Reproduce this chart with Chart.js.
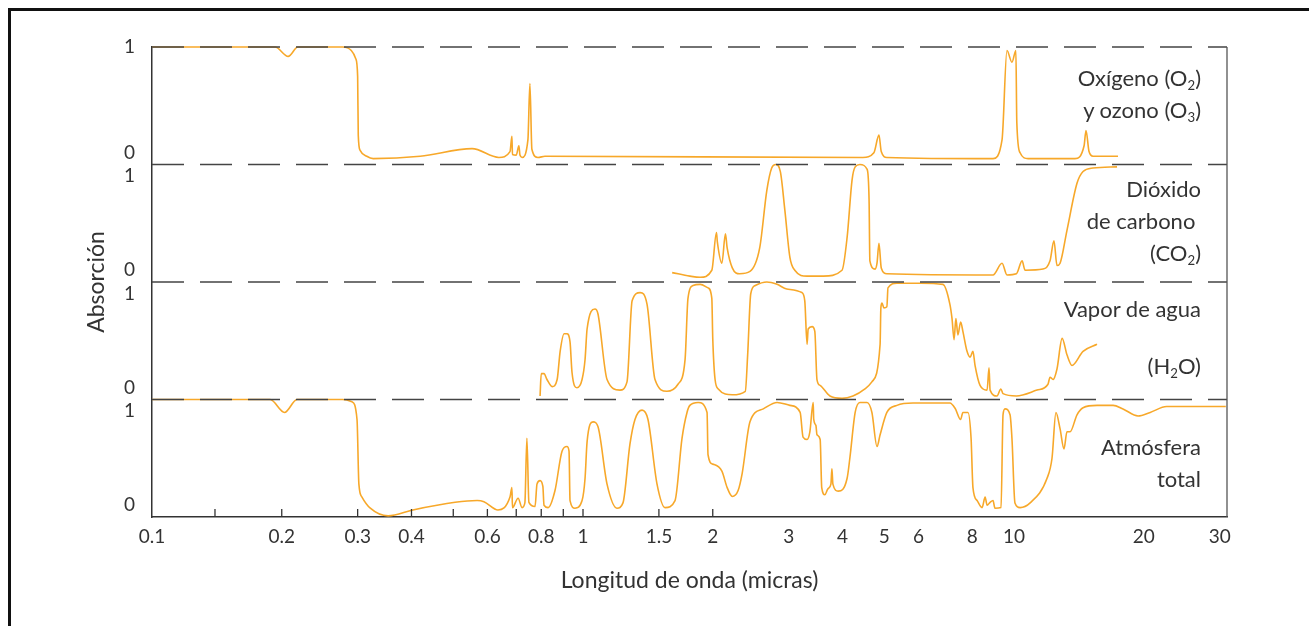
<!DOCTYPE html>
<html lang="es">
<head>
  <meta charset="UTF-8" />
  <title>Absorción atmosférica</title>
  <style>
    body { margin: 0; background: #fff; font-family: Lato, sans-serif; }
    #wrap { position: relative; width: 1309px; height: 626px; overflow: hidden; }
    #frame { position: absolute; left: 8px; top: 8px; width: 1310px; height: 630px; border-top: 3px solid #111; border-left: 3px solid #111; }
    .lbl { position: absolute; right: 108px; text-align: right; font-size: 22px; line-height: 32px; color: #333; }
    .lbl sub { font-size: 0.6em; line-height: 0; vertical-align: -0.3em; }
  </style>
  <script src="https://cdn.jsdelivr.net/npm/chart.js"></script>
</head>
<body>
  <div id="wrap">
    <canvas id="chart" width="1309" height="626"></canvas>
    <div id="frame"></div>
    <div class="lbl" style="top:62px">Oxígeno (O<sub>2</sub>)<br>y ozono (O<sub>3</sub>)</div>
    <div class="lbl" style="top:173px">Dióxido<br>de carbono&nbsp;<br>(CO<sub>2</sub>)</div>
    <div class="lbl" style="top:293px">Vapor de agua<br><span style="display:block;margin-top:25px">(H<sub>2</sub>O)</span></div>
    <div class="lbl" style="top:431px">Atmósfera<br>total</div>
  </div>

  <script>
    // eje x: longitud de onda (micras), eje y: absorción 0..1 en cada franja
    const xTickLabels = [0.1, 0.2, 0.3, 0.4, 0.6, 0.8, 1, 1.5, 2, 3, 4, 5, 6, 8, 10, 20, 30];
    const xTickMarks = [0.14, 0.2, 0.3, 0.4, 0.5, 0.6, 0.7, 0.8, 0.9, 1, 1.5, 2];
    const yTickLabels = ['0', '1', '0', '1', '0', '1', '0', '1'];

    // franja superior: oxígeno y ozono
    const o2Wave = [0.1, 0.193, 0.207, 0.218, 0.277, 0.290, 0.297, 0.300, 0.301, 0.304, 0.315, 0.326, 0.419, 0.553, 0.638, 0.677, 0.684, 0.686, 0.70, 0.71, 0.714, 0.722, 0.745, 0.753, 0.761, 0.786, 0.816, 4.46, 4.73, 4.86, 4.92, 5.07, 8.94, 9.38, 9.63, 9.89, 10.1, 10.15, 10.33, 10.78, 13.85, 14.54, 14.69, 14.93, 15.25, 17.43];
    const o2Abs = [1.0, 1.0, 0.92, 1.0, 1.0, 0.97, 0.90, 0.75, 0.25, 0.12, 0.07, 0.05, 0.07, 0.135, 0.06, 0.11, 0.24, 0.085, 0.08, 0.16, 0.08, 0.06, 0.21, 0.69, 0.13, 0.06, 0.07, 0.06, 0.10, 0.25, 0.11, 0.06, 0.05, 0.21, 0.97, 0.87, 0.97, 0.36, 0.10, 0.05, 0.05, 0.16, 0.29, 0.11, 0.07, 0.07];

    // dióxido de carbono
    const co2Wave = [1.61, 1.77, 1.87, 1.99, 2.04, 2.05, 2.10, 2.14, 2.16, 2.22, 2.31, 2.44, 2.57, 2.67, 2.74, 2.80, 2.87, 2.94, 3.02, 3.10, 3.31, 3.61, 3.99, 4.10, 4.21, 4.28, 4.39, 4.56, 4.61, 4.63, 4.76, 4.81, 4.86, 4.92, 5.07, 8.94, 9.38, 9.63, 10.13, 10.44, 10.61, 11.68, 12.12, 12.38, 12.58, 12.79, 13.27, 14.0, 14.46, 15.25, 17.34];
    const co2Abs = [0.08, 0.05, 0.04, 0.10, 0.42, 0.34, 0.16, 0.41, 0.29, 0.12, 0.07, 0.09, 0.29, 0.78, 0.97, 1.0, 0.94, 0.61, 0.21, 0.10, 0.05, 0.05, 0.10, 0.38, 0.87, 0.98, 1.0, 0.96, 0.70, 0.18, 0.11, 0.16, 0.33, 0.12, 0.07, 0.06, 0.16, 0.06, 0.07, 0.18, 0.10, 0.11, 0.18, 0.35, 0.14, 0.16, 0.44, 0.84, 0.94, 0.97, 0.98];

    // vapor de agua
    const h2oWave = [0.795, 0.80, 0.812, 0.825, 0.848, 0.871, 0.885, 0.904, 0.918, 0.933, 0.943, 0.968, 0.995, 1.011, 1.022, 1.066, 1.083, 1.137, 1.218, 1.265, 1.30, 1.357, 1.408, 1.469, 1.566, 1.661, 1.725, 1.752, 1.80, 1.87, 1.95, 1.99, 2.00, 2.025, 2.06, 2.22, 2.38, 2.41, 2.45, 2.51, 2.67, 2.82, 2.97, 3.22, 3.27, 3.31, 3.33, 3.40, 3.45, 3.49, 3.55, 3.74, 3.99, 4.23, 4.51, 4.68, 4.89, 4.91, 4.94, 4.99, 5.07, 5.10, 5.35, 6.07, 6.84, 7.10, 7.18, 7.26, 7.33, 7.41, 7.52, 7.61, 7.78, 7.91, 8.03, 8.12, 8.34, 8.66, 8.75, 8.80, 9.13, 9.32, 9.43, 10.13, 11.31, 11.99, 12.12, 12.32, 12.58, 12.93, 13.27, 13.63, 14.46, 15.58];
    const h2oAbs = [0.03, 0.22, 0.22, 0.17, 0.11, 0.17, 0.41, 0.56, 0.56, 0.49, 0.23, 0.10, 0.17, 0.34, 0.60, 0.77, 0.73, 0.17, 0.08, 0.15, 0.84, 0.91, 0.81, 0.17, 0.07, 0.13, 0.34, 0.86, 0.97, 0.98, 0.95, 0.86, 0.52, 0.17, 0.09, 0.04, 0.07, 0.38, 0.90, 0.97, 1.0, 0.98, 0.94, 0.91, 0.84, 0.47, 0.60, 0.62, 0.58, 0.17, 0.12, 0.03, 0.01, 0.03, 0.09, 0.15, 0.47, 0.78, 0.82, 0.78, 0.79, 0.95, 0.99, 0.99, 0.98, 0.81, 0.69, 0.51, 0.69, 0.55, 0.66, 0.58, 0.41, 0.36, 0.41, 0.29, 0.12, 0.08, 0.27, 0.08, 0.03, 0.09, 0.05, 0.03, 0.08, 0.13, 0.19, 0.17, 0.26, 0.52, 0.38, 0.29, 0.41, 0.47];

    // atmósfera total
    const totalWave = [0.1, 0.188, 0.203, 0.217, 0.277, 0.291, 0.299, 0.302, 0.307, 0.321, 0.353, 0.403, 0.505, 0.568, 0.589, 0.635, 0.677, 0.684, 0.686, 0.707, 0.722, 0.733, 0.741, 0.749, 0.774, 0.782, 0.795, 0.807, 0.812, 0.830, 0.861, 0.894, 0.918, 0.928, 0.933, 0.958, 0.995, 1.011, 1.022, 1.055, 1.083, 1.137, 1.199, 1.238, 1.285, 1.32, 1.371, 1.415, 1.485, 1.55, 1.635, 1.697, 1.743, 1.77, 1.85, 1.94, 1.95, 2.00, 2.10, 2.16, 2.22, 2.29, 2.34, 2.44, 2.62, 2.82, 3.02, 3.19, 3.24, 3.31, 3.36, 3.42, 3.43, 3.47, 3.49, 3.55, 3.58, 3.64, 3.70, 3.76, 3.78, 3.80, 3.91, 4.10, 4.16, 4.28, 4.39, 4.56, 4.68, 4.81, 4.89, 5.07, 5.35, 5.83, 7.10, 7.30, 7.52, 7.61, 7.82, 7.95, 8.03, 8.21, 8.43, 8.57, 8.66, 8.80, 8.94, 9.03, 9.33, 9.43, 9.53, 9.79, 9.89, 10.05, 10.33, 10.9, 11.93, 12.25, 12.51, 12.79, 13.06, 13.27, 13.49, 14.0, 14.46, 15.58, 16.97, 17.9, 19.4, 20.7, 22.6, 25.6, 31.0];
    const totalAbs = [1.0, 1.0, 0.89, 1.0, 1.0, 0.98, 0.83, 0.28, 0.17, 0.075, 0.01, 0.06, 0.125, 0.14, 0.13, 0.06, 0.17, 0.25, 0.08, 0.16, 0.08, 0.12, 0.67, 0.125, 0.09, 0.28, 0.31, 0.26, 0.10, 0.08, 0.225, 0.56, 0.60, 0.56, 0.14, 0.075, 0.14, 0.33, 0.64, 0.81, 0.77, 0.28, 0.075, 0.12, 0.62, 0.83, 0.91, 0.83, 0.28, 0.08, 0.14, 0.67, 0.89, 0.95, 0.975, 0.89, 0.53, 0.45, 0.39, 0.25, 0.175, 0.225, 0.37, 0.81, 0.92, 0.975, 0.95, 0.89, 0.68, 0.66, 0.725, 0.975, 0.83, 0.78, 0.70, 0.66, 0.25, 0.19, 0.24, 0.28, 0.41, 0.28, 0.22, 0.33, 0.50, 0.89, 0.975, 0.975, 0.89, 0.60, 0.70, 0.89, 0.95, 0.97, 0.97, 0.925, 0.83, 0.89, 0.89, 0.67, 0.25, 0.14, 0.08, 0.17, 0.10, 0.125, 0.14, 0.075, 0.08, 0.87, 0.92, 0.87, 0.67, 0.12, 0.08, 0.12, 0.33, 0.50, 0.89, 0.75, 0.58, 0.725, 0.725, 0.87, 0.93, 0.95, 0.95, 0.92, 0.86, 0.89, 0.94, 0.94, 0.94];

    // cada franja se apila una unidad por encima de la anterior
    const panels = [
      { wave: totalWave, abs: totalAbs, offset: 0 },
      { wave: h2oWave, abs: h2oAbs, offset: 1 },
      { wave: co2Wave, abs: co2Abs, offset: 2 },
      { wave: o2Wave, abs: o2Abs, offset: 3 }
    ];
    const ORANGE = '#f7a82a';
    const INK = '#333';

    Chart.defaults.font.family = 'Lato, sans-serif';
    Chart.defaults.color = INK;

    const panelLines = {
      id: 'panelLines',
      afterDatasetsDraw(chart) {
        const { ctx, chartArea: a, scales: { x, y } } = chart;
        ctx.save();
        ctx.strokeStyle = '#444';
        ctx.lineWidth = 1.6;
        ctx.setLineDash([32, 16]);
        panels.forEach(p => {
          const py = y.getPixelForValue(p.offset + 1);
          ctx.beginPath(); ctx.moveTo(a.left, py); ctx.lineTo(a.right, py); ctx.stroke();
        });
        ctx.setLineDash([]);
        ctx.strokeStyle = '#555';
        ctx.lineWidth = 1.3;
        ctx.beginPath(); ctx.moveTo(a.right, a.top); ctx.lineTo(a.right, a.bottom); ctx.stroke();
        ctx.strokeStyle = INK;
        xTickMarks.forEach(v => {
          const px = x.getPixelForValue(v);
          ctx.beginPath(); ctx.moveTo(px, a.bottom); ctx.lineTo(px, a.bottom - 8); ctx.stroke();
        });
        ctx.restore();
      }
    };

    new Chart(document.getElementById('chart'), {
      type: 'line',
      data: {
        datasets: panels.map(p => ({
          data: p.wave.map((w, i) => ({ x: w, y: p.abs[i] + p.offset })),
          borderColor: ORANGE,
          borderWidth: 1.6,
          pointRadius: 0,
          cubicInterpolationMode: 'monotone',
          clip: 4
        }))
      },
      options: {
        responsive: false,
        animation: false,
        layout: { padding: { left: 0, right: 82, top: 47, bottom: 0 } },
        plugins: { legend: { display: false }, tooltip: { enabled: false } },
        scales: {
          x: {
            type: 'logarithmic',
            min: 0.1,
            max: 31.2,
            afterFit: s => { s.height = 109; },
            afterBuildTicks: s => { s.ticks = xTickLabels.map(v => ({ value: v })); },
            ticks: { autoSkip: false, maxRotation: 0, padding: 8, font: { size: 19 }, callback: v => String(v) },
            grid: { display: false, drawTicks: false },
            border: { display: true, color: INK, width: 1.5 },
            title: { display: true, text: 'Longitud de onda (micras)', font: { size: 23 }, padding: { top: 0, bottom: 32 } }
          },
          y: {
            min: 0,
            max: 4,
            afterFit: s => { s.width = 152; },
            afterBuildTicks: s => {
              s.ticks = [];
              panels.forEach((p, i) => {
                s.ticks.push({ value: p.offset + 0.1 });
                s.ticks.push({ value: p.offset + (i === panels.length - 1 ? 1 : 0.9) });
              });
            },
            ticks: { padding: 17, font: { size: 19 }, callback: (v, i) => yTickLabels[i] },
            grid: { display: false, drawTicks: false },
            border: { display: true, color: INK, width: 1.5 },
            title: { display: true, text: 'Absorción', font: { size: 23 }, padding: { top: 83, bottom: 0 } }
          }
        }
      },
      plugins: [panelLines]
    });
  </script>
</body>
</html>
